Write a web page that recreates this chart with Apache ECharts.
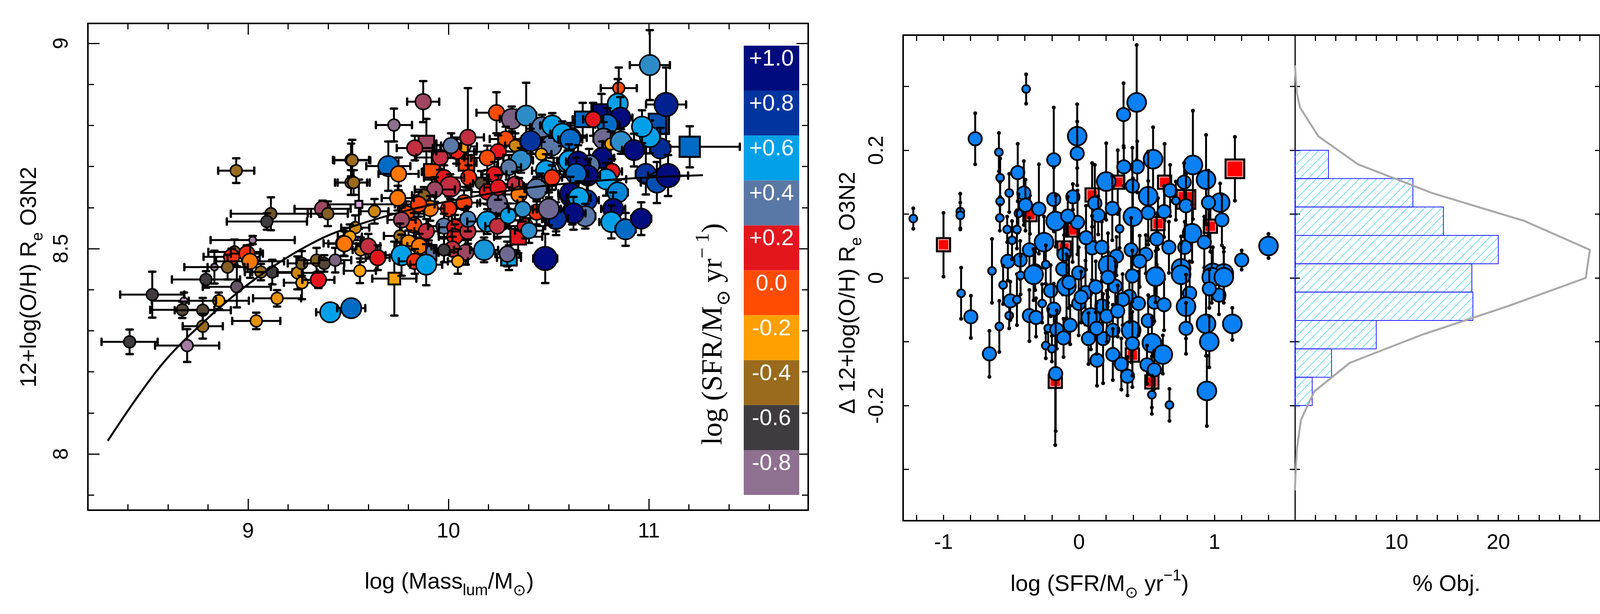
<!DOCTYPE html>
<html>
<head>
<meta charset="utf-8">
<title>O3N2 metallicity vs mass and SFR</title>
<script src="https://cdn.jsdelivr.net/npm/echarts@6/dist/echarts.min.js"></script>
<style>
  html, body { margin: 0; padding: 0; background: #fff; }
  #chart { width: 4138px; height: 1573px; }
</style>
</head>
<body>
<div id="chart"></div>
<script>
// left panel, circles: [log Mass, 12+log(O/H), log SFR, err mass, err O/H, size class]
var massOhCircles = [
  [8.941,8.690,-0.4,0.09,0.03,2],[9.114,8.585,-0.5,0.2,0.04,2],[9.094,8.566,-0.6,0.2,0.02,2],
  [9.023,8.521,-0.85,0.21,0.01,1],[8.932,8.492,-0.45,0.13,0.03,2],[8.918,8.480,0.1,0.14,0.02,3],
  [8.994,8.488,0.1,0.08,0.02,3],[9.010,8.469,-0.1,0.17,0.04,3],[8.832,8.455,-0.85,0.15,0.04,1],
  [8.898,8.455,-0.45,0.1,0.03,2],[8.790,8.425,-0.6,0.17,0.02,2],[8.944,8.407,-0.7,0.17,0.05,2],
  [9.064,8.443,-0.4,0.08,0.02,2],[9.121,8.443,-0.6,0.1,0.03,2],[8.854,8.373,-0.2,0.15,0.02,2],
  [8.680,8.373,-1.0,0.16,0.02,1],[8.672,8.351,-0.55,0.16,0.02,2],[8.774,8.350,-0.55,0.14,0.03,2],
  [8.522,8.388,-0.6,0.16,0.056,2],[8.409,8.273,-0.6,0.14,0.03,2],[8.696,8.264,-0.85,0.16,0.04,2],
  [8.774,8.311,-0.4,0.1,0.03,2],[9.041,8.324,-0.25,0.12,0.02,2],[9.145,8.379,-0.25,0.12,0.02,2],
  [9.247,8.441,-0.3,0.1,0.04,2],[9.269,8.417,-0.2,0.09,0.04,2],[9.351,8.424,0.2,0.08,0.02,3],
  [9.268,8.464,-0.45,0.07,0.03,2],[9.342,8.472,-0.45,0.1,0.03,2],[9.380,8.464,-0.55,0.1,0.02,2],
  [9.435,8.472,-0.75,0.08,0.03,2],[9.410,8.345,0.6,0.07,0.01,4],[9.515,8.355,0.7,0.07,0.01,4],
  [9.477,8.513,-0.1,0.1,0.03,3],[9.372,8.597,0.3,0.14,0.02,3],[9.398,8.585,-0.45,0.1,0.03,2],
  [9.514,8.716,-0.4,0.09,0.04,2],[9.514,8.661,-0.4,0.08,0.03,2],
  [9.874,8.858,0.3,0.08,0.05,3],[9.728,8.801,-0.8,0.09,0.04,2],[9.520,8.715,-0.4,0.09,0.05,2],
  [9.527,8.661,-0.4,0.08,0.03,2],[9.700,8.701,0.7,0.11,0.06,4],[9.751,8.682,-0.1,0.1,0.04,3],
  [9.832,8.745,0.25,0.09,0.03,3],[9.959,8.722,0.25,0.12,0.03,3],[10.040,8.737,0.15,0.1,0.03,3],
  [10.082,8.749,-0.2,0.06,0.03,2],[10.097,8.771,0.25,0.08,0.12,3],[10.013,8.751,0.4,0.05,0.03,3],
  [10.240,8.831,0.0,0.1,0.05,3],[10.316,8.816,0.35,0.06,0.03,4],[10.388,8.824,0.5,0.05,0.08,4],
  [10.467,8.796,0.4,0.06,0.03,4],[10.286,8.767,0.0,0.08,0.03,3],[10.333,8.751,-0.3,0.05,0.03,2],
  [10.248,8.736,0.2,0.12,0.04,3],[10.194,8.721,0.0,0.08,0.03,3],[10.362,8.715,0.5,0.06,0.03,4],
  [10.302,8.698,0.4,0.06,0.03,3],[10.514,8.751,0.4,0.09,0.03,4],[10.464,8.730,-0.2,0.05,0.03,2],
  [10.487,8.690,0.6,0.07,0.04,4],[10.229,8.681,0.2,0.06,0.03,3],[10.101,8.673,0.1,0.1,0.03,3],
  [9.978,8.673,0.2,0.1,0.03,3],[10.009,8.651,0.25,0.1,0.03,4],[9.932,8.644,0.3,0.1,0.03,3],
  [9.878,8.630,-0.45,0.06,0.02,2],[10.163,8.659,-0.55,0.04,0.03,2],[10.333,8.657,0.25,0.08,0.03,3],
  [10.352,8.632,-0.1,0.07,0.04,3],[10.456,8.653,0.4,0.08,0.03,4],[10.194,8.638,0.2,0.08,0.03,3],
  [10.244,8.610,0.37,0.1,0.03,4],[10.078,8.612,0.05,0.08,0.03,3],[10.001,8.597,0.1,0.09,0.03,3],
  [9.909,8.598,-0.1,0.07,0.03,3],[9.851,8.608,0.05,0.08,0.03,3],[9.789,8.585,0.0,0.09,0.03,3],
  [9.747,8.623,-0.1,0.08,0.03,3],[9.828,8.557,0.0,0.07,0.03,3],[9.890,8.542,0.25,0.06,0.03,3],
  [9.766,8.570,0.3,0.07,0.03,3],[9.631,8.591,-0.3,0.07,0.03,2],[9.535,8.551,-0.3,0.07,0.03,2],
  [9.508,8.529,-0.2,0.06,0.03,2],[9.481,8.512,-0.1,0.08,0.03,3],[9.562,8.497,-0.3,0.04,0.03,2],
  [9.600,8.506,0.25,0.06,0.03,3],[9.647,8.478,0.2,0.06,0.03,3],[9.558,8.446,-0.2,0.08,0.03,2],
  [9.758,8.531,-0.4,0.08,0.03,2],[9.801,8.514,-0.15,0.06,0.03,3],[9.855,8.506,-0.1,0.06,0.03,3],
  [9.766,8.484,0.6,0.08,0.05,4],[9.832,8.469,0.1,0.08,0.03,3],[9.889,8.461,0.6,0.08,0.05,4],
  [9.978,8.555,0.4,0.08,0.03,3],[10.032,8.552,0.2,0.08,0.03,3],[10.032,8.529,0.15,0.08,0.03,3],
  [10.097,8.542,0.25,0.08,0.03,3],[10.097,8.572,0.45,0.08,0.03,3],[10.194,8.566,0.6,0.1,0.03,4],
  [10.244,8.555,0.25,0.06,0.03,3],[10.298,8.580,0.6,0.06,0.03,3],[10.383,8.555,0.2,0.1,0.03,3],
  [10.440,8.589,0.1,0.1,0.03,3],[10.402,8.544,0.5,0.07,0.03,3],[10.502,8.595,0.37,0.08,0.03,3],
  [10.537,8.572,0.8,0.07,0.03,4],[10.020,8.499,0.25,0.08,0.03,3],[10.086,8.491,0.3,0.08,0.03,3],
  [9.978,8.497,-0.6,0.05,0.03,2],[10.047,8.469,-0.2,0.05,0.03,2],[10.178,8.497,0.55,0.07,0.03,4],
  [10.294,8.487,0.37,0.06,0.03,3],[10.483,8.476,1.0,0.06,0.06,5],[10.610,8.627,1.0,0.06,0.03,4],
  [10.595,8.709,0.6,0.07,0.03,4],[10.610,8.770,0.65,0.08,0.03,4],[10.518,8.800,0.6,0.06,0.03,4],
  [10.410,8.762,0.8,0.05,0.03,4],[10.248,8.649,0.2,0.07,0.03,3],[10.371,8.596,0.5,0.07,0.03,3],
  [10.440,8.645,0.4,0.06,0.03,4],[10.568,8.780,0.6,0.06,0.03,4],[10.618,8.589,1.0,0.06,0.03,4],
  [11.005,8.947,0.5,0.1,0.085,4],[10.850,8.891,0.0,0.09,0.05,2],[10.845,8.853,0.6,0.04,0.06,4],
  [11.086,8.851,0.9,0.1,0.09,5],[11.057,8.744,0.85,0.05,0.05,4],[10.985,8.682,0.8,0.05,0.05,4],
  [11.005,8.772,0.6,0.04,0.04,4],[10.966,8.797,0.6,0.04,0.04,4],[10.858,8.819,1.0,0.06,0.05,4],
  [10.793,8.802,0.7,0.06,0.04,4],[10.722,8.815,0.2,0.05,0.04,3],[10.774,8.768,0.37,0.05,0.04,4],
  [10.810,8.755,-0.2,0.04,0.03,2],[10.861,8.761,0.5,0.05,0.03,4],[10.926,8.740,1.0,0.06,0.04,4],
  [10.767,8.721,1.0,0.06,0.04,4],[10.702,8.703,0.4,0.05,0.04,4],[10.608,8.766,0.7,0.06,0.04,4],
  [10.602,8.714,0.6,0.06,0.04,4],[10.647,8.712,1.0,0.06,0.04,4],[10.816,8.688,0.2,0.05,0.03,3],
  [10.787,8.669,0.6,0.1,0.04,4],[10.696,8.678,1.0,0.06,0.04,4],[10.637,8.682,0.7,0.06,0.04,4],
  [10.517,8.673,0.1,0.05,0.03,3],[10.845,8.637,0.65,0.05,0.03,4],[11.040,8.661,0.75,0.08,0.05,4],
  [11.096,8.678,1.0,0.1,0.05,5],[10.690,8.618,0.8,0.06,0.04,4],[10.608,8.635,1.0,0.06,0.04,4],
  [10.650,8.624,0.6,0.06,0.04,4],[10.683,8.579,0.4,0.05,0.03,4],[10.624,8.586,1.0,0.06,0.04,4],
  [10.537,8.573,0.8,0.06,0.04,4],[10.501,8.597,0.37,0.06,0.04,4],[10.822,8.597,1.0,0.06,0.04,4],
  [10.813,8.565,0.6,0.06,0.04,4],[10.884,8.547,0.7,0.05,0.04,4],[10.962,8.573,1.0,0.05,0.04,4]
];
// left panel, squares: same columns
var massOhSquares = [
  [9.553,8.608,-1.0,0.18,0.06,1],[9.890,8.756,0.3,0.05,0.06,3],[9.730,8.427,-0.2,0.11,0.09,2],
  [9.901,8.490,0.4,0.05,0.03,3],[10.348,8.529,0.2,0.12,0.04,3],[10.302,8.478,0.6,0.06,0.03,3],
  [11.204,8.748,0.7,0.25,0.05,4],[11.050,8.804,0.75,0.04,0.04,4],[10.764,8.827,1.0,0.05,0.05,4],
  [10.670,8.815,0.7,0.05,0.04,3],[9.917,8.687,0.0,0.05,0.05,3],[10.090,8.709,0.05,0.05,0.06,3]
];
// fitted mass-metallicity curve
var fitMass = [8.30, 8.45, 8.60, 8.78, 8.94, 9.09, 9.27, 9.44, 9.77, 10.05, 10.35, 10.64, 10.95, 11.27];
var fitOh   = [8.032, 8.140, 8.235, 8.322, 8.390, 8.445, 8.500, 8.540, 8.590, 8.620, 8.645, 8.661, 8.672, 8.679];

// SFR colour scale, from -1.0 up to +1.0 in steps of 0.2
var sfrStops  = [-1.0, -0.8, -0.6, -0.4, -0.2, 0.0, 0.2, 0.4, 0.6, 0.8, 1.0];
var sfrColors = ['#dca0dc', '#8f7090', '#3f3b3f', '#9a6b1c', '#ffa000', '#ff4b00',
                 '#e3161e', '#5a78a6', '#00a0e8', '#0035a0', '#000c7d'];
var sfrBarLabels = ['+1.0', '+0.8', '+0.6', '+0.4', '+0.2', '0.0', '-0.2', '-0.4', '-0.6', '-0.8'];

// right panel: [log SFR, delta O/H, err, size class]
var residCircles = [
  [-1.223,0.093,0.016,1],[-0.876,0.104,0.028,1],[-0.876,0.098,0.02,1],[-0.766,0.218,0.04,2],
  [-0.390,0.296,0.023,1],[-0.591,0.197,0.03,1],[-0.582,0.157,0.03,1],[-0.582,0.120,0.03,1],
  [-0.584,0.094,0.02,1],[-0.515,0.133,0.03,1],[-0.452,0.165,0.045,2],[-0.407,0.133,0.05,2],
  [-0.395,0.114,0.04,2],[-0.447,0.101,0.03,1],[-0.296,0.108,0.07,2],[-0.186,0.185,0.082,2],
  [-0.186,0.123,0.05,2],[-0.172,0.089,0.04,3],[-0.013,0.222,0.05,3],[-0.013,0.195,0.05,2],
  [-0.045,0.127,0.02,2],[0.117,0.117,0.06,2],[0.329,0.256,0.049,2],[0.426,0.275,0.09,3],
  [0.201,0.151,0.06,3],[0.331,0.174,0.03,2],[0.430,0.174,0.04,2],[0.547,0.186,0.05,3],
  [0.841,0.177,0.085,3],[0.938,0.154,0.07,3],[0.776,0.150,0.03,2],[0.673,0.137,0.04,2],
  [0.511,0.128,0.07,3],[0.394,0.144,0.06,2],[0.246,0.109,0.05,2],[0.142,0.098,0.03,2],
  [0.398,0.096,0.06,3],[0.511,0.102,0.05,2],[0.628,0.104,0.04,2],[0.790,0.113,0.05,2],
  [1.042,0.118,0.03,3],[0.956,0.118,0.05,2],[1.055,0.091,0.04,2],[0.715,0.121,0.03,1],
  [0.835,0.070,0.045,3],[0.925,0.056,0.04,2],[1.399,0.050,0.019,3],[1.201,0.028,0.015,2],
  [0.574,0.061,0.04,2],[0.664,0.048,0.04,2],[0.493,0.037,0.03,2],[0.277,0.034,0.03,2],
  [0.097,0.047,0.05,2],[-0.011,0.087,0.05,2],[-0.083,0.097,0.03,2],[-0.110,0.037,0.03,2],
  [-0.258,0.056,0.04,3],[-0.366,0.044,0.05,2],[-0.434,0.028,0.03,2],[-0.525,0.026,0.03,2],
  [-0.494,0.059,0.03,1],[-0.458,0.076,0.03,1],[-0.530,0.076,0.02,1],[-0.642,0.011,0.05,1],
  [0.300,0.077,0.03,1],[0.052,0.063,0.05,2],[0.169,0.048,0.04,2],[0.385,0.044,0.05,2],
  [0.781,0.048,0.04,2],[0.754,0.015,0.05,3],[0.988,0.008,0.04,3],[1.069,0.007,0.04,3],
  [-0.323,0.011,0.03,2],[-0.245,0.021,0.03,1],[-0.120,0.014,0.04,2],[0.214,0.020,0.05,3],
  [0.448,0.026,0.04,2],[0.574,0.007,0.04,2],
  [-0.870,-0.024,0.04,1],[-0.798,-0.061,0.033,2],[-0.661,-0.119,0.036,2],[-0.588,-0.076,0.04,1],
  [-0.560,-0.011,0.03,1],[-0.515,-0.059,0.02,1],[-0.507,-0.036,0.03,2],[-0.458,-0.034,0.04,1],
  [-0.431,0.004,0.03,1],[-0.366,-0.059,0.04,2],[-0.317,-0.062,0.03,2],[-0.272,-0.040,0.03,1],
  [-0.335,0.005,0.04,3],[-0.209,-0.020,0.04,2],[-0.186,-0.049,0.04,2],[-0.227,-0.079,0.03,1],
  [-0.164,-0.081,0.03,2],[-0.114,-0.094,0.03,2],[-0.245,-0.106,0.02,1],[-0.200,-0.111,0.02,1],
  [-0.172,-0.150,0.09,2],[-0.092,-0.013,0.05,3],[-0.065,-0.074,0.03,2],[-0.002,-0.040,0.05,2],
  [0.048,-0.023,0.05,2],[0.088,-0.062,0.05,3],[0.070,-0.095,0.04,2],[0.169,-0.044,0.04,2],
  [0.178,-0.095,0.07,2],[0.205,-0.060,0.04,2],[0.250,-0.082,0.04,2],[0.250,-0.120,0.04,2],
  [0.133,-0.129,0.04,2],[0.313,-0.135,0.04,2],[0.358,-0.154,0.03,2],[0.385,-0.082,0.05,3],
  [0.394,-0.103,0.05,2],[0.372,-0.029,0.04,2],[0.439,-0.040,0.05,2],[0.511,-0.067,0.04,2],
  [0.538,-0.102,0.04,3],[0.619,-0.120,0.03,3],[0.502,-0.136,0.03,2],[0.556,-0.144,0.03,2],
  [0.538,-0.183,0.03,1],[0.668,-0.199,0.025,1],[0.556,-0.038,0.03,2],[0.628,-0.042,0.04,2],
  [0.565,0.002,0.04,3],[0.394,0.003,0.04,2],[0.754,0.005,0.05,3],[0.817,-0.024,0.05,2],
  [0.790,-0.045,0.05,3],[0.790,-0.079,0.04,2],[0.938,-0.072,0.05,3],[0.962,-0.100,0.04,3],
  [0.944,-0.177,0.055,3],[1.132,-0.072,0.025,3],[0.980,0.001,0.04,3],[1.033,-0.027,0.03,2],
  [1.069,0.001,0.04,3],[0.962,-0.017,0.03,2],[0.268,-0.013,0.04,2],[0.214,0.001,0.04,2],
  [0.124,-0.014,0.04,2],[-0.002,0.008,0.04,2],[0.322,-0.034,0.04,2],[0.286,-0.052,0.04,2],
  [-0.074,-0.007,0.04,2],[0.016,-0.030,0.04,2],[0.130,-0.079,0.04,2]
];
var residSquares = [
  [-1.000,0.052,0.05,2],[-0.362,0.099,0.03,2],[0.097,0.130,0.05,2],[1.151,0.171,0.05,3],
  [0.632,0.150,0.06,2],[0.790,0.123,0.04,3],[0.970,0.081,0.04,2],[-0.047,0.075,0.05,2],
  [-0.110,0.047,0.04,2],[-0.175,-0.162,0.1,2],[0.394,-0.121,0.05,2],[0.538,-0.163,0.04,2],
  [0.286,0.150,0.05,2],[0.583,0.085,0.04,2]
];

// histogram of the residuals (bin edges, % of objects per bin)
var histEdges = [0.2, 0.1556, 0.1111, 0.0667, 0.0222, -0.0222, -0.0667, -0.1111, -0.1556, -0.2];
var histPct   = [3.3, 11.6, 14.6, 20.0, 17.4, 17.5, 8.0, 3.6, 1.7];
// gaussian profile drawn over it
var gaussDelta = [0.333, 0.311, 0.289, 0.267, 0.222, 0.178, 0.133, 0.089, 0.044, 0.0,
                  -0.044, -0.089, -0.133, -0.178, -0.222, -0.267, -0.311, -0.333];
var gaussPct   = [0.0, 0.1, 0.2, 0.5, 2.3, 6.2, 13.5, 22.6, 29.0, 28.6,
                  21.0, 12.5, 5.4, 1.9, 0.6, 0.2, 0.05, 0.0];

// ticks and tick labels
var massMajor = [9, 10, 11];
var massMinor = [8.4, 8.6, 8.8, 9.2, 9.4, 9.6, 9.8, 10.2, 10.4, 10.6, 10.8, 11.2, 11.4, 11.6];
var ohMajor = [8, 8.5, 9];
var ohMinor = [7.9, 8.1, 8.2, 8.3, 8.4, 8.6, 8.7, 8.8, 8.9];
var sfrTicks = [-1.2, -1, -0.8, -0.6, -0.4, -0.2, 0, 0.2, 0.4, 0.6, 0.8, 1, 1.2, 1.4];
var sfrLabels = [-1, 0, 1];
var deltaTicks = [-0.3, -0.2, -0.1, 0, 0.1, 0.2, 0.3];
var deltaLabels = [-0.2, 0, 0.2];
var pctTicks = [2, 4, 6, 8, 10, 12, 14, 16, 18, 20, 22, 24, 26, 28];
var pctLabels = [10, 20];

var leftSizePx = [0, 18, 30, 40, 52, 60];
var rightSizePx = [0, 20, 34, 48];

var SANS = '"Liberation Sans", Arial, sans-serif';
var SERIF = '"Liberation Serif", "DejaVu Serif", serif';

var chart = echarts.init(document.getElementById('chart'));

function ln(x1, y1, x2, y2, w) {
    return {type: 'line', shape: {x1: x1, y1: y1, x2: x2, y2: y2},
            style: {stroke: '#000', lineWidth: w, lineCap: 'round'}};
}

function renderMassOh(square) {
    return function (params, api) {
        var m = api.value(0), oh = api.value(1), dm = api.value(3), doh = api.value(4);
        var s = leftSizePx[api.value(5)];
        var c = api.coord([m, oh]);
        var xl = api.coord([m - dm, oh])[0], xr = api.coord([m + dm, oh])[0];
        var yt = api.coord([m, oh + doh])[1], yb = api.coord([m, oh - doh])[1];
        var cap = 8;
        var kids = [
            ln(xl, c[1], xr, c[1], 5), ln(c[0], yt, c[0], yb, 5),
            ln(xl, c[1] - cap, xl, c[1] + cap, 6), ln(xr, c[1] - cap, xr, c[1] + cap, 6),
            ln(c[0] - cap, yt, c[0] + cap, yt, 6), ln(c[0] - cap, yb, c[0] + cap, yb, 6)
        ];
        var fill = api.visual('color');
        if (square) {
            kids.push({type: 'rect', shape: {x: c[0] - s / 2, y: c[1] - s / 2, width: s, height: s},
                       style: {fill: fill, stroke: '#000', lineWidth: 5}});
        } else {
            kids.push({type: 'circle', shape: {cx: c[0], cy: c[1], r: s / 2},
                       style: {fill: fill, stroke: '#000', lineWidth: 4}});
        }
        return {type: 'group', children: kids};
    };
}

function renderResid(fill, square) {
    return function (params, api) {
        var x = api.value(0), d = api.value(1), e = api.value(2);
        var s = rightSizePx[api.value(3)];
        var c = api.coord([x, d]);
        var yt = api.coord([x, d + e])[1], yb = api.coord([x, d - e])[1];
        var kids = [
            ln(c[0], yt, c[0], yb, 5),
            {type: 'circle', shape: {cx: c[0], cy: yt, r: 5}, style: {fill: '#000'}},
            {type: 'circle', shape: {cx: c[0], cy: yb, r: 5}, style: {fill: '#000'}}
        ];
        if (square) {
            kids.push({type: 'rect', shape: {x: c[0] - s / 2, y: c[1] - s / 2, width: s, height: s},
                       style: {fill: fill, stroke: '#000', lineWidth: 5}});
            kids.push({type: 'rect', shape: {x: c[0] - s / 2 + 4, y: c[1] - s / 2 + 4, width: s - 8, height: s - 8},
                       style: {fill: null, stroke: '#fff', lineWidth: 1.5}});
        } else {
            kids.push({type: 'circle', shape: {cx: c[0], cy: c[1], r: s / 2},
                       style: {fill: fill, stroke: '#000', lineWidth: 4.5}});
        }
        return {type: 'group', children: kids};
    };
}

// hatch fill for the histogram bars
var hatch = document.createElement('canvas');
hatch.width = 22; hatch.height = 22;
var hg = hatch.getContext('2d');
hg.strokeStyle = '#58dcee';
hg.lineWidth = 1.6;
hg.beginPath();
hg.moveTo(0, 22); hg.lineTo(22, 0);
hg.moveTo(-11, 11); hg.lineTo(11, -11);
hg.moveTo(11, 33); hg.lineTo(33, 11);
hg.stroke();

var histData = [];
for (var i = 0; i < histPct.length; i++) {
    histData.push([histEdges[i + 1], histEdges[i], histPct[i]]);
}

function renderHist(params, api) {
    var lo = api.value(0), hi = api.value(1), p = api.value(2);
    var a = api.coord([0, hi]), b = api.coord([p, lo]);
    return {type: 'rect', shape: {x: a[0], y: a[1], width: b[0] - a[0], height: b[1] - a[1]},
            style: {fill: {image: hatch, repeat: 'repeat'}, stroke: '#1a1aff', lineWidth: 2}};
}

function axis(grid, pos, min, max, ticks, len, o) {
    o = o || {};
    var a = {
        type: 'value', gridIndex: grid, position: pos, min: min, max: max,
        axisLine: {show: !!o.line, onZero: false, lineStyle: {color: '#000', width: o.line || 4}},
        axisTick: {show: true, inside: true, length: len, customValues: ticks,
                   lineStyle: {color: '#000', width: 3}},
        axisLabel: {show: false},
        splitLine: {show: false}
    };
    if (o.labels) {
        a.axisLabel = {show: true, customValues: o.labels, margin: o.margin, rotate: o.rotate || 0,
                       color: '#000', fontFamily: SANS, fontSize: 54};
    }
    return a;
}

var MX = [8.2008, 11.7953], MY = [7.8631, 9.0485];
var SX = [-1.298, 1.594], DY = [-0.3804, 0.3804], PX = [0, 30];

var xAxes = [
    axis(0, 'bottom', MX[0], MX[1], massMajor, 29, {line: 4, labels: massMajor, margin: 28}),
    axis(0, 'bottom', MX[0], MX[1], massMinor, 15),
    axis(0, 'top', MX[0], MX[1], massMajor, 29, {line: 4}),
    axis(0, 'top', MX[0], MX[1], massMinor, 15),
    {type: 'value', gridIndex: 1, min: 0, max: 1, show: false},
    axis(2, 'bottom', SX[0], SX[1], sfrTicks, 15, {line: 4, labels: sfrLabels, margin: 30}),
    axis(2, 'top', SX[0], SX[1], sfrTicks, 15, {line: 4}),
    axis(3, 'bottom', PX[0], PX[1], pctTicks, 15, {line: 4, labels: pctLabels, margin: 30}),
    axis(3, 'top', PX[0], PX[1], pctTicks, 15, {line: 4})
];
var yAxes = [
    axis(0, 'left', MY[0], MY[1], ohMajor, 30, {line: 4, labels: ohMajor, margin: 40, rotate: 90}),
    axis(0, 'left', MY[0], MY[1], ohMinor, 16),
    axis(0, 'right', MY[0], MY[1], ohMajor, 30, {line: 4}),
    axis(0, 'right', MY[0], MY[1], ohMinor, 16),
    {type: 'category', gridIndex: 1, data: sfrBarLabels, inverse: true, show: false},
    axis(2, 'left', DY[0], DY[1], deltaTicks, 15, {line: 4, labels: deltaLabels, margin: 40, rotate: 90}),
    axis(2, 'right', DY[0], DY[1], deltaTicks, 13, {line: 3}),
    axis(3, 'left', DY[0], DY[1], deltaTicks, 13, {line: 3}),
    axis(3, 'right', DY[0], DY[1], deltaTicks, 13, {line: 4})
];

var fitData = fitMass.map(function (m, k) { return [m, fitOh[k]]; });
var gaussData = gaussDelta.map(function (d, k) { return [gaussPct[k], d]; });
var barColors = sfrColors.slice(1).reverse();
var barData = sfrBarLabels.map(function (lab, k) {
    return {value: 1, itemStyle: {color: barColors[k]}};
});

var rich = {
    m: {fontFamily: SANS, fontSize: 58, lineHeight: 84, color: '#000'},
    s: {fontFamily: SANS, fontSize: 40, lineHeight: 84, verticalAlign: 'bottom', color: '#000'},
    p: {fontFamily: SANS, fontSize: 40, lineHeight: 84, verticalAlign: 'top', color: '#000'}
};
var richSerif = {
    m: {fontFamily: SERIF, fontSize: 74, lineHeight: 104, color: '#000'},
    s: {fontFamily: SERIF, fontSize: 50, lineHeight: 104, verticalAlign: 'bottom', color: '#000'},
    p: {fontFamily: SERIF, fontSize: 50, lineHeight: 104, verticalAlign: 'top', color: '#000'}
};

function label(x, y, text, rot, r) {
    return {type: 'text', x: x, y: y, rotation: rot, silent: true,
            style: {text: text, rich: r || rich, align: 'center', verticalAlign: 'middle'}};
}

option = {
    animation: false,
    backgroundColor: '#fff',
    grid: [
        {left: 225, top: 60, width: 1844, height: 1247},
        {left: 1904, top: 117, width: 142, height: 1151},
        {left: 2312, top: 90, width: 1003, height: 1244},
        {left: 3315, top: 90, width: 781, height: 1244}
    ],
    xAxis: xAxes,
    yAxis: yAxes,
    visualMap: {
        type: 'continuous', show: false, dimension: 2, seriesIndex: [0, 1],
        min: sfrStops[0], max: sfrStops[sfrStops.length - 1],
        inRange: {color: sfrColors}
    },
    series: [
        {type: 'custom', xAxisIndex: 0, yAxisIndex: 0, data: massOhSquares,
         renderItem: renderMassOh(true), clip: true},
        {type: 'custom', xAxisIndex: 0, yAxisIndex: 0, data: massOhCircles,
         renderItem: renderMassOh(false), clip: true},
        {type: 'line', xAxisIndex: 0, yAxisIndex: 0, data: fitData, smooth: 0.35,
         symbol: 'none', lineStyle: {color: '#000', width: 5}, z: 3},
        {type: 'bar', xAxisIndex: 4, yAxisIndex: 4, data: barData, barWidth: '100%',
         barCategoryGap: '0%', z: 4,
         label: {show: true, position: 'insideTop', distance: 6, formatter: '{b}',
                 color: '#fff', fontFamily: SANS, fontSize: 58}},
        {type: 'custom', xAxisIndex: 5, yAxisIndex: 5, data: residSquares,
         renderItem: renderResid('#ff0000', true), clip: true},
        {type: 'custom', xAxisIndex: 5, yAxisIndex: 5, data: residCircles,
         renderItem: renderResid('#0a80f5', false), clip: true},
        {type: 'custom', xAxisIndex: 7, yAxisIndex: 7, data: histData, renderItem: renderHist},
        {type: 'line', xAxisIndex: 7, yAxisIndex: 7, data: gaussData, symbol: 'none',
         lineStyle: {color: '#a8a8a8', width: 5}}
    ],
    graphic: [
        label(76, 710, '{m|12+log(O/H) R}{s|e}{m| O3N2}', Math.PI / 2),
        label(1150, 1492, '{m|log (Mass}{s|lum}{m|/M}{s|\u2299}{m|)}', 0),
        label(1828, 856, '{m|log (SFR/M}{s|\u2299}{m| yr}{p|\u2212 1}{m|)}', Math.PI / 2, richSerif),
        label(2172, 750, '{m|\u0394 12+log(O/H) R}{s|e}{m| O3N2}', Math.PI / 2),
        label(2815, 1498, '{m|log (SFR/M}{s|\u2299}{m| yr}{p|\u22121}{m|)}', 0),
        label(3703, 1498, '{m|% Obj.}', 0)
    ]
};
chart.setOption(option);
</script>
</body>
</html>
